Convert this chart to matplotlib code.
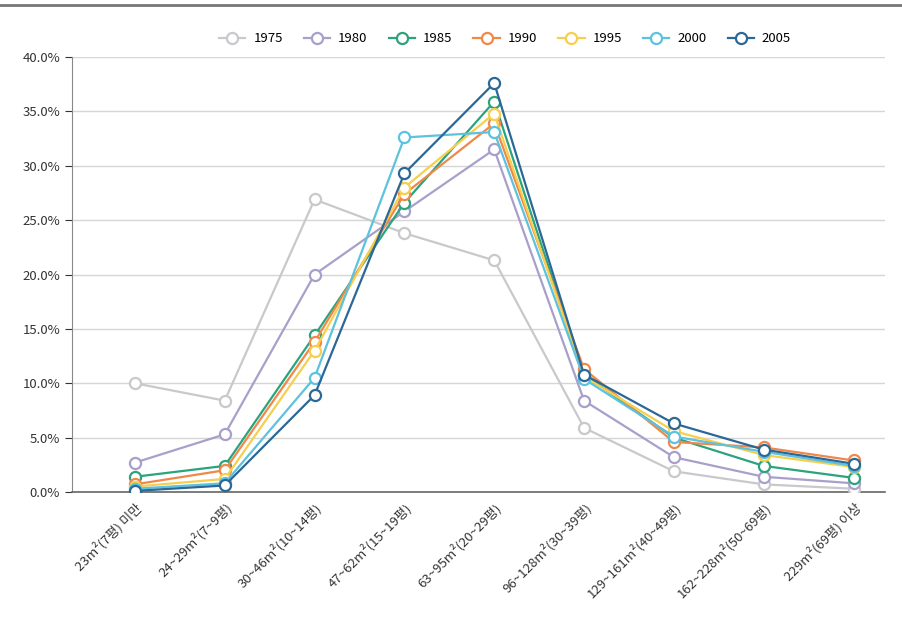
import matplotlib
matplotlib.use("Agg")
import matplotlib.pyplot as plt
from matplotlib.lines import Line2D
from matplotlib.ticker import FuncFormatter

plt.rcParams['font.family'] = ['Noto Sans CJK KR', 'DejaVu Sans']

# size classes of dwellings
categories = ["23m²(7평) 미만", "24~29m²(7~9평)", "30~46m²(10~14평)", "47~62m²(15~19평)",
              "63~95m²(20~29평)", "96~128m²(30~39평)", "129~161m²(40~49평)",
              "162~228m²(50~69평)", "229m²(69평) 이상"]

years = ["1975", "1980", "1985", "1990", "1995", "2000", "2005"]

# share of dwellings (%) per size class
share_1975 = [10.0, 8.4, 26.9, 23.8, 21.3, 5.9, 1.9, 0.7, 0.3]
share_1980 = [2.7, 5.3, 20.0, 25.8, 31.5, 8.4, 3.2, 1.4, 0.8]
share_1985 = [1.4, 2.4, 14.4, 26.6, 35.9, 10.8, 5.0, 2.4, 1.3]
share_1990 = [0.7, 2.0, 13.8, 27.4, 33.9, 11.3, 4.6, 4.1, 2.9]
share_1995 = [0.5, 1.2, 13.0, 28.0, 34.8, 10.6, 5.6, 3.4, 2.3]
share_2000 = [0.3, 0.8, 10.5, 32.6, 33.1, 10.4, 5.1, 3.7, 2.4]
share_2005 = [0.1, 0.6, 8.9, 29.3, 37.6, 10.8, 6.3, 3.9, 2.6]

all_shares = [share_1975, share_1980, share_1985, share_1990, share_1995, share_2000, share_2005]
colors = ["#c9c9cc", "#a99fcb", "#2ba37d", "#f0884a", "#f6cf4e", "#5cc2de", "#2b6896"]

fig = plt.figure(figsize=(9.03, 6.32), dpi=100)
ax = fig.add_axes([72/903, 1 - 492/632, (885 - 72)/903, (492 - 57)/632])

x = list(range(len(categories)))
for year, vals, col in zip(years, all_shares, colors):
    ax.plot(x, vals, color=col, linewidth=1.6, marker='o', markersize=8,
            markerfacecolor='white', markeredgecolor=col, markeredgewidth=1.6,
            label=year, zorder=3)

ax.set_ylim(0, 40)
ax.set_xlim(-0.7, 8.35)
ax.set_yticks([0, 5, 10, 15, 20, 25, 30, 35, 40])
ax.yaxis.set_major_formatter(FuncFormatter(lambda v, p: "{:.1f}%".format(v)))
ax.set_xticks(x)
ax.set_xticklabels(categories, rotation=45, ha='right', rotation_mode='anchor', fontsize=9.5, color='#333333')
ax.tick_params(axis='y', labelsize=9.5, colors='#333333', length=5, width=0.8)
ax.tick_params(axis='x', length=0, pad=6)
ax.grid(axis='y', color='#d6d6d6', linewidth=1.0, zorder=0)
ax.set_axisbelow(True)
for s in ['top', 'right']:
    ax.spines[s].set_visible(False)
ax.spines['left'].set_color('#888888')
ax.spines['bottom'].set_color('#666666')
ax.spines['bottom'].set_linewidth(1.2)

# legend on top
fig.legend(loc='center', bbox_to_anchor=(505/903, 1 - 39/632), ncol=7, frameon=False,
           fontsize=9.5, handlelength=2.0, columnspacing=1.6, handletextpad=0.6)

# dark rule across the top of the figure
fig.add_artist(Line2D([0, 1], [1 - 5/632, 1 - 5/632], color='#777777', linewidth=2))

fig.savefig("out.png", dpi=100)
